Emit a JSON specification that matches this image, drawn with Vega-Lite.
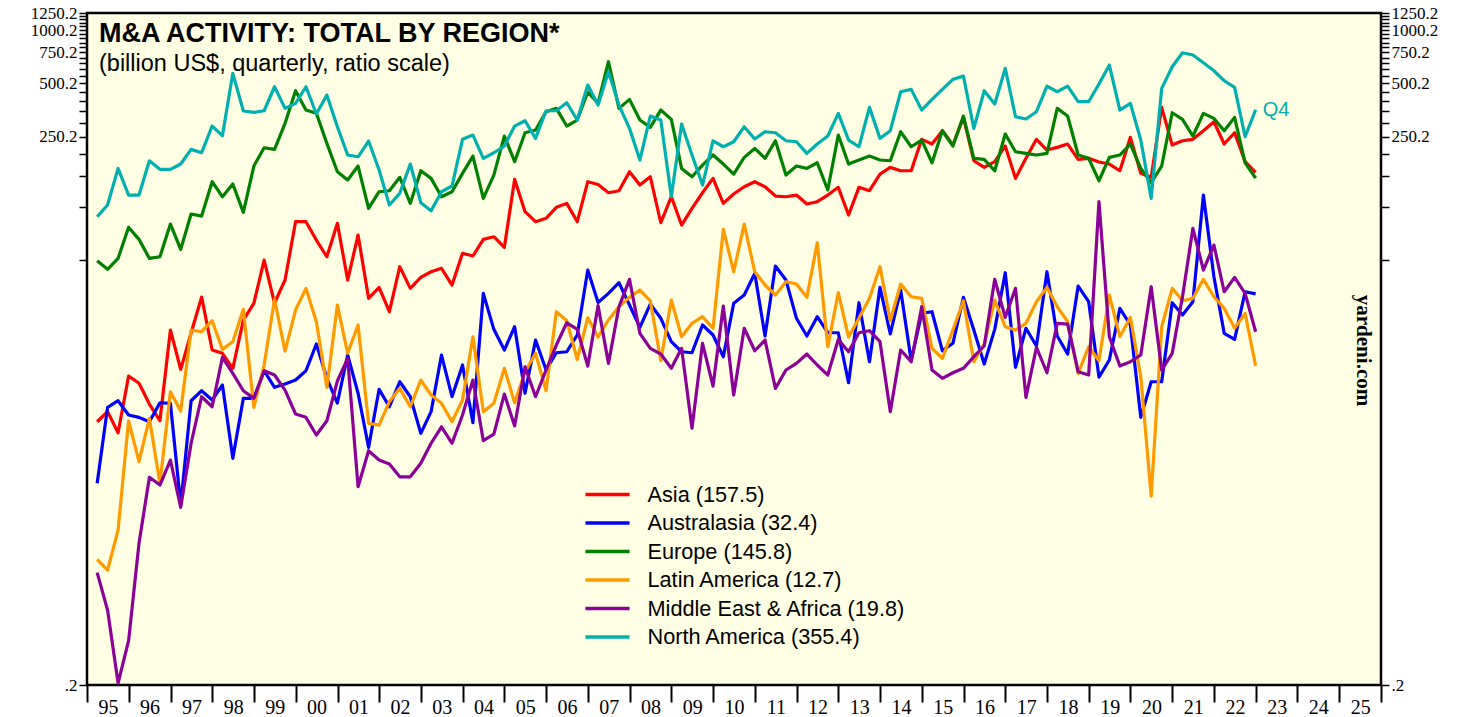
{
"$schema": "https://vega.github.io/schema/vega-lite/v6.json",
"width": 1294, "height": 672,
"autosize": {"type": "none"},
"padding": {"left": 87, "top": 13, "right": 99, "bottom": 32},
"background": "white",
"config": {
  "view": {"fill": "#FFFFE3", "stroke": "#000000", "strokeWidth": 2.5},
  "axis": {"labelFont": "Liberation Serif", "labelFontSize": 20, "labelColor": "#000000", "tickColor": "#000000", "domain": false, "grid": false}
},
"title": {"text": "M&A ACTIVITY: TOTAL BY REGION*", "subtitle": "(billion US$, quarterly, ratio scale)", "anchor": "start", "frame": "group", "orient": "top", "offset": -72, "dx": 12, "font": "Liberation Sans", "fontSize": 27, "fontWeight": "bold", "color": "#000000", "subtitleFont": "Liberation Sans", "subtitleFontSize": 23.5, "subtitleColor": "#000000", "subtitlePadding": 4},
"datasets": {
"bounds": [{"value": 0.2}, {"value": 1250.2}],
"tag": [{"date": "2022-12-31", "value": 355.4, "label": "Q4"}],
"ma": [
{"date":"1995-03-31","region":"Asia (157.5)","value":6.14},{"date":"1995-06-30","region":"Asia (157.5)","value":7.00},{"date":"1995-09-30","region":"Asia (157.5)","value":5.32},{"date":"1995-12-31","region":"Asia (157.5)","value":11.13},
{"date":"1996-03-31","region":"Asia (157.5)","value":10.12},{"date":"1996-06-30","region":"Asia (157.5)","value":7.73},{"date":"1996-09-30","region":"Asia (157.5)","value":6.22},{"date":"1996-12-31","region":"Asia (157.5)","value":20.24},
{"date":"1997-03-31","region":"Asia (157.5)","value":12.14},{"date":"1997-06-30","region":"Asia (157.5)","value":19.46},{"date":"1997-09-30","region":"Asia (157.5)","value":31.09},{"date":"1997-12-31","region":"Asia (157.5)","value":15.60},
{"date":"1998-03-31","region":"Asia (157.5)","value":14.95},{"date":"1998-06-30","region":"Asia (157.5)","value":12.30},{"date":"1998-09-30","region":"Asia (157.5)","value":23.05},{"date":"1998-12-31","region":"Asia (157.5)","value":28.65},
{"date":"1999-03-31","region":"Asia (157.5)","value":50.30},{"date":"1999-06-30","region":"Asia (157.5)","value":28.75},{"date":"1999-09-30","region":"Asia (157.5)","value":38.78},{"date":"1999-12-31","region":"Asia (157.5)","value":82.8},
{"date":"2000-03-31","region":"Asia (157.5)","value":82.8},{"date":"2000-06-30","region":"Asia (157.5)","value":65.24},{"date":"2000-09-30","region":"Asia (157.5)","value":52.5},{"date":"2000-12-31","region":"Asia (157.5)","value":81.1},
{"date":"2001-03-31","region":"Asia (157.5)","value":38.78},{"date":"2001-06-30","region":"Asia (157.5)","value":69.63},{"date":"2001-09-30","region":"Asia (157.5)","value":30.56},{"date":"2001-12-31","region":"Asia (157.5)","value":35.27},
{"date":"2002-03-31","region":"Asia (157.5)","value":25.68},{"date":"2002-06-30","region":"Asia (157.5)","value":46.1},{"date":"2002-09-30","region":"Asia (157.5)","value":34.81},{"date":"2002-12-31","region":"Asia (157.5)","value":40.16},
{"date":"2003-03-31","region":"Asia (157.5)","value":43.2},{"date":"2003-06-30","region":"Asia (157.5)","value":45.15},{"date":"2003-09-30","region":"Asia (157.5)","value":36.34},{"date":"2003-12-31","region":"Asia (157.5)","value":54.9},
{"date":"2004-03-31","region":"Asia (157.5)","value":52.99},{"date":"2004-06-30","region":"Asia (157.5)","value":65.83},{"date":"2004-09-30","region":"Asia (157.5)","value":68.1},{"date":"2004-12-31","region":"Asia (157.5)","value":59.33},
{"date":"2005-03-31","region":"Asia (157.5)","value":143.7},{"date":"2005-06-30","region":"Asia (157.5)","value":94.3},{"date":"2005-09-30","region":"Asia (157.5)","value":82.8},{"date":"2005-12-31","region":"Asia (157.5)","value":86.5},
{"date":"2006-03-31","region":"Asia (157.5)","value":99.8},{"date":"2006-06-30","region":"Asia (157.5)","value":105.1},{"date":"2006-09-30","region":"Asia (157.5)","value":82.8},{"date":"2006-12-31","region":"Asia (157.5)","value":139.3},
{"date":"2007-03-31","region":"Asia (157.5)","value":134.3},{"date":"2007-06-30","region":"Asia (157.5)","value":120.7},{"date":"2007-09-30","region":"Asia (157.5)","value":123.9},{"date":"2007-12-31","region":"Asia (157.5)","value":158.6},
{"date":"2008-03-31","region":"Asia (157.5)","value":133.4},{"date":"2008-06-30","region":"Asia (157.5)","value":148.6},{"date":"2008-09-30","region":"Asia (157.5)","value":81.7},{"date":"2008-12-31","region":"Asia (157.5)","value":114.6},
{"date":"2009-03-31","region":"Asia (157.5)","value":79.3},{"date":"2009-06-30","region":"Asia (157.5)","value":98.5},{"date":"2009-09-30","region":"Asia (157.5)","value":120.7},{"date":"2009-12-31","region":"Asia (157.5)","value":145.5},
{"date":"2010-03-31","region":"Asia (157.5)","value":105.1},{"date":"2010-06-30","region":"Asia (157.5)","value":118.7},{"date":"2010-09-30","region":"Asia (157.5)","value":130.5},{"date":"2010-12-31","region":"Asia (157.5)","value":139.3},
{"date":"2011-03-31","region":"Asia (157.5)","value":130.5},{"date":"2011-06-30","region":"Asia (157.5)","value":115.6},{"date":"2011-09-30","region":"Asia (157.5)","value":114.6},{"date":"2011-12-31","region":"Asia (157.5)","value":117.1},
{"date":"2012-03-31","region":"Asia (157.5)","value":104.2},{"date":"2012-06-30","region":"Asia (157.5)","value":107.4},{"date":"2012-09-30","region":"Asia (157.5)","value":117.1},{"date":"2012-12-31","region":"Asia (157.5)","value":129.5},
{"date":"2013-03-31","region":"Asia (157.5)","value":90.3},{"date":"2013-06-30","region":"Asia (157.5)","value":129.5},{"date":"2013-09-30","region":"Asia (157.5)","value":123.9},{"date":"2013-12-31","region":"Asia (157.5)","value":153.9},
{"date":"2014-03-31","region":"Asia (157.5)","value":167.9},{"date":"2014-06-30","region":"Asia (157.5)","value":160.7},{"date":"2014-09-30","region":"Asia (157.5)","value":160.7},{"date":"2014-12-31","region":"Asia (157.5)","value":241.7},
{"date":"2015-03-31","region":"Asia (157.5)","value":227.4},{"date":"2015-06-30","region":"Asia (157.5)","value":270.3},{"date":"2015-09-30","region":"Asia (157.5)","value":224.4},{"date":"2015-12-31","region":"Asia (157.5)","value":321.7},
{"date":"2016-03-31","region":"Asia (157.5)","value":183.0},{"date":"2016-06-30","region":"Asia (157.5)","value":167.9},{"date":"2016-09-30","region":"Asia (157.5)","value":180.7},{"date":"2016-12-31","region":"Asia (157.5)","value":221.5},
{"date":"2017-03-31","region":"Asia (157.5)","value":145.5},{"date":"2017-06-30","region":"Asia (157.5)","value":188.8},{"date":"2017-09-30","region":"Asia (157.5)","value":241.7},{"date":"2017-12-31","region":"Asia (157.5)","value":210.3},
{"date":"2018-03-31","region":"Asia (157.5)","value":217.8},{"date":"2018-06-30","region":"Asia (157.5)","value":227.4},{"date":"2018-09-30","region":"Asia (157.5)","value":186.3},{"date":"2018-12-31","region":"Asia (157.5)","value":188.8},
{"date":"2019-03-31","region":"Asia (157.5)","value":179.9},{"date":"2019-06-30","region":"Asia (157.5)","value":175.3},{"date":"2019-09-30","region":"Asia (157.5)","value":160.7},{"date":"2019-12-31","region":"Asia (157.5)","value":248.1},
{"date":"2020-03-31","region":"Asia (157.5)","value":155.3},{"date":"2020-06-30","region":"Asia (157.5)","value":147.5},{"date":"2020-09-30","region":"Asia (157.5)","value":366.4},{"date":"2020-12-31","region":"Asia (157.5)","value":224.4},
{"date":"2021-03-31","region":"Asia (157.5)","value":237.3},{"date":"2021-06-30","region":"Asia (157.5)","value":241.7},{"date":"2021-09-30","region":"Asia (157.5)","value":270.3},{"date":"2021-12-31","region":"Asia (157.5)","value":303.9},
{"date":"2022-03-31","region":"Asia (157.5)","value":227.4},{"date":"2022-06-30","region":"Asia (157.5)","value":263.4},{"date":"2022-09-30","region":"Asia (157.5)","value":180.7},{"date":"2022-12-31","region":"Asia (157.5)","value":157.5},
{"date":"1995-03-31","region":"Australasia (32.4)","value":2.756},{"date":"1995-06-30","region":"Australasia (32.4)","value":7.40},{"date":"1995-09-30","region":"Australasia (32.4)","value":8.07},{"date":"1995-12-31","region":"Australasia (32.4)","value":6.70},
{"date":"1996-03-31","region":"Australasia (32.4)","value":6.50},{"date":"1996-06-30","region":"Australasia (32.4)","value":6.14},{"date":"1996-09-30","region":"Australasia (32.4)","value":7.86},{"date":"1996-12-31","region":"Australasia (32.4)","value":7.80},
{"date":"1997-03-31","region":"Australasia (32.4)","value":2.078},{"date":"1997-06-30","region":"Australasia (32.4)","value":8.07},{"date":"1997-09-30","region":"Australasia (32.4)","value":9.19},{"date":"1997-12-31","region":"Australasia (32.4)","value":8.14},
{"date":"1998-03-31","region":"Australasia (32.4)","value":9.90},{"date":"1998-06-30","region":"Australasia (32.4)","value":3.815},{"date":"1998-09-30","region":"Australasia (32.4)","value":8.32},{"date":"1998-12-31","region":"Australasia (32.4)","value":8.32},
{"date":"1999-03-31","region":"Australasia (32.4)","value":11.92},{"date":"1999-06-30","region":"Australasia (32.4)","value":9.61},{"date":"1999-09-30","region":"Australasia (32.4)","value":10.03},{"date":"1999-12-31","region":"Australasia (32.4)","value":10.56},
{"date":"2000-03-31","region":"Australasia (32.4)","value":11.92},{"date":"2000-06-30","region":"Australasia (32.4)","value":16.87},{"date":"2000-09-30","region":"Australasia (32.4)","value":10.8},{"date":"2000-12-31","region":"Australasia (32.4)","value":7.83},
{"date":"2001-03-31","region":"Australasia (32.4)","value":14.62},{"date":"2001-06-30","region":"Australasia (32.4)","value":8.89},{"date":"2001-09-30","region":"Australasia (32.4)","value":4.40},{"date":"2001-12-31","region":"Australasia (32.4)","value":9.36},
{"date":"2002-03-31","region":"Australasia (32.4)","value":7.46},{"date":"2002-06-30","region":"Australasia (32.4)","value":10.33},{"date":"2002-09-30","region":"Australasia (32.4)","value":8.50},{"date":"2002-12-31","region":"Australasia (32.4)","value":5.28},
{"date":"2003-03-31","region":"Australasia (32.4)","value":7.00},{"date":"2003-06-30","region":"Australasia (32.4)","value":14.62},{"date":"2003-09-30","region":"Australasia (32.4)","value":8.50},{"date":"2003-12-31","region":"Australasia (32.4)","value":12.84},
{"date":"2004-03-31","region":"Australasia (32.4)","value":6.06},{"date":"2004-06-30","region":"Australasia (32.4)","value":32.62},{"date":"2004-09-30","region":"Australasia (32.4)","value":20.42},{"date":"2004-12-31","region":"Australasia (32.4)","value":15.60},
{"date":"2005-03-31","region":"Australasia (32.4)","value":21.13},{"date":"2005-06-30","region":"Australasia (32.4)","value":8.89},{"date":"2005-09-30","region":"Australasia (32.4)","value":17.77},{"date":"2005-12-31","region":"Australasia (32.4)","value":12.03},
{"date":"2006-03-31","region":"Australasia (32.4)","value":15.06},{"date":"2006-06-30","region":"Australasia (32.4)","value":15.26},{"date":"2006-09-30","region":"Australasia (32.4)","value":18.97},{"date":"2006-12-31","region":"Australasia (32.4)","value":44.17},
{"date":"2007-03-31","region":"Australasia (32.4)","value":28.95},{"date":"2007-06-30","region":"Australasia (32.4)","value":32.62},{"date":"2007-09-30","region":"Australasia (32.4)","value":37.45},{"date":"2007-12-31","region":"Australasia (32.4)","value":28.02},
{"date":"2008-03-31","region":"Australasia (32.4)","value":20.96},{"date":"2008-06-30","region":"Australasia (32.4)","value":28.38},{"date":"2008-09-30","region":"Australasia (32.4)","value":23.57},{"date":"2008-12-31","region":"Australasia (32.4)","value":17.39},
{"date":"2009-03-31","region":"Australasia (32.4)","value":15.26},{"date":"2009-06-30","region":"Australasia (32.4)","value":15.06},{"date":"2009-09-30","region":"Australasia (32.4)","value":21.6},{"date":"2009-12-31","region":"Australasia (32.4)","value":18.97},
{"date":"2010-03-31","region":"Australasia (32.4)","value":14.3},{"date":"2010-06-30","region":"Australasia (32.4)","value":28.65},{"date":"2010-09-30","region":"Australasia (32.4)","value":31.91},{"date":"2010-12-31","region":"Australasia (32.4)","value":42.3},
{"date":"2011-03-31","region":"Australasia (32.4)","value":18.72},{"date":"2011-06-30","region":"Australasia (32.4)","value":46.52},{"date":"2011-09-30","region":"Australasia (32.4)","value":38.78},{"date":"2011-12-31","region":"Australasia (32.4)","value":23.57},
{"date":"2012-03-31","region":"Australasia (32.4)","value":18.72},{"date":"2012-06-30","region":"Australasia (32.4)","value":24.06},{"date":"2012-09-30","region":"Australasia (32.4)","value":19.54},{"date":"2012-12-31","region":"Australasia (32.4)","value":19.54},
{"date":"2013-03-31","region":"Australasia (32.4)","value":10.2},{"date":"2013-06-30","region":"Australasia (32.4)","value":28.87},{"date":"2013-09-30","region":"Australasia (32.4)","value":13.4},{"date":"2013-12-31","region":"Australasia (32.4)","value":35.27},
{"date":"2014-03-31","region":"Australasia (32.4)","value":19.22},{"date":"2014-06-30","region":"Australasia (32.4)","value":34.05},{"date":"2014-09-30","region":"Australasia (32.4)","value":13.58},{"date":"2014-12-31","region":"Australasia (32.4)","value":25.15},
{"date":"2015-03-31","region":"Australasia (32.4)","value":25.68},{"date":"2015-06-30","region":"Australasia (32.4)","value":15.45},{"date":"2015-09-30","region":"Australasia (32.4)","value":17.03},{"date":"2015-12-31","region":"Australasia (32.4)","value":30.96},
{"date":"2016-03-31","region":"Australasia (32.4)","value":20.24},{"date":"2016-06-30","region":"Australasia (32.4)","value":13.0},{"date":"2016-09-30","region":"Australasia (32.4)","value":20.42},{"date":"2016-12-31","region":"Australasia (32.4)","value":42.65},
{"date":"2017-03-31","region":"Australasia (32.4)","value":12.46},{"date":"2017-06-30","region":"Australasia (32.4)","value":20.7},{"date":"2017-09-30","region":"Australasia (32.4)","value":16.44},{"date":"2017-12-31","region":"Australasia (32.4)","value":43.2},
{"date":"2018-03-31","region":"Australasia (32.4)","value":18.72},{"date":"2018-06-30","region":"Australasia (32.4)","value":14.81},{"date":"2018-09-30","region":"Australasia (32.4)","value":35.87},{"date":"2018-12-31","region":"Australasia (32.4)","value":29.25},
{"date":"2019-03-31","region":"Australasia (32.4)","value":10.98},{"date":"2019-06-30","region":"Australasia (32.4)","value":13.7},{"date":"2019-09-30","region":"Australasia (32.4)","value":26.84},{"date":"2019-12-31","region":"Australasia (32.4)","value":21.6},
{"date":"2020-03-31","region":"Australasia (32.4)","value":6.50},{"date":"2020-06-30","region":"Australasia (32.4)","value":10.33},{"date":"2020-09-30","region":"Australasia (32.4)","value":10.33},{"date":"2020-12-31","region":"Australasia (32.4)","value":28.87},
{"date":"2021-03-31","region":"Australasia (32.4)","value":24.6},{"date":"2021-06-30","region":"Australasia (32.4)","value":29.25},{"date":"2021-09-30","region":"Australasia (32.4)","value":117.1},{"date":"2021-12-31","region":"Australasia (32.4)","value":40.48},
{"date":"2022-03-31","region":"Australasia (32.4)","value":19.39},{"date":"2022-06-30","region":"Australasia (32.4)","value":17.93},{"date":"2022-09-30","region":"Australasia (32.4)","value":33.3},{"date":"2022-12-31","region":"Australasia (32.4)","value":32.4},
{"date":"1995-03-31","region":"Europe (145.8)","value":49.8},{"date":"1995-06-30","region":"Europe (145.8)","value":44.6},{"date":"1995-09-30","region":"Europe (145.8)","value":51.4},{"date":"1995-12-31","region":"Europe (145.8)","value":77.0},
{"date":"1996-03-31","region":"Europe (145.8)","value":65.8},{"date":"1996-06-30","region":"Europe (145.8)","value":51.4},{"date":"1996-09-30","region":"Europe (145.8)","value":52.5},{"date":"1996-12-31","region":"Europe (145.8)","value":80.3},
{"date":"1997-03-31","region":"Europe (145.8)","value":57.8},{"date":"1997-06-30","region":"Europe (145.8)","value":91.5},{"date":"1997-09-30","region":"Europe (145.8)","value":89.1},{"date":"1997-12-31","region":"Europe (145.8)","value":139.3},
{"date":"1998-03-31","region":"Europe (145.8)","value":114.6},{"date":"1998-06-30","region":"Europe (145.8)","value":135.2},{"date":"1998-09-30","region":"Europe (145.8)","value":93.5},{"date":"1998-12-31","region":"Europe (145.8)","value":170.8},
{"date":"1999-03-31","region":"Europe (145.8)","value":216.7},{"date":"1999-06-30","region":"Europe (145.8)","value":212.1},{"date":"1999-09-30","region":"Europe (145.8)","value":297.6},{"date":"1999-12-31","region":"Europe (145.8)","value":454.8},
{"date":"2000-03-31","region":"Europe (145.8)","value":353.8},{"date":"2000-06-30","region":"Europe (145.8)","value":339.0},{"date":"2000-09-30","region":"Europe (145.8)","value":229.4},{"date":"2000-12-31","region":"Europe (145.8)","value":158.6},
{"date":"2001-03-31","region":"Europe (145.8)","value":142.4},{"date":"2001-06-30","region":"Europe (145.8)","value":170.8},{"date":"2001-09-30","region":"Europe (145.8)","value":98.5},{"date":"2001-12-31","region":"Europe (145.8)","value":122.3},
{"date":"2002-03-31","region":"Europe (145.8)","value":123.9},{"date":"2002-06-30","region":"Europe (145.8)","value":147.5},{"date":"2002-09-30","region":"Europe (145.8)","value":105.1},{"date":"2002-12-31","region":"Europe (145.8)","value":160.7},
{"date":"2003-03-31","region":"Europe (145.8)","value":145.5},{"date":"2003-06-30","region":"Europe (145.8)","value":114.6},{"date":"2003-09-30","region":"Europe (145.8)","value":122.3},{"date":"2003-12-31","region":"Europe (145.8)","value":155.3},
{"date":"2004-03-31","region":"Europe (145.8)","value":194.5},{"date":"2004-06-30","region":"Europe (145.8)","value":112.2},{"date":"2004-09-30","region":"Europe (145.8)","value":151.9},{"date":"2004-12-31","region":"Europe (145.8)","value":252.3},
{"date":"2005-03-31","region":"Europe (145.8)","value":180.7},{"date":"2005-06-30","region":"Europe (145.8)","value":263.4},{"date":"2005-09-30","region":"Europe (145.8)","value":272.8},{"date":"2005-12-31","region":"Europe (145.8)","value":346.2},
{"date":"2006-03-31","region":"Europe (145.8)","value":361.6},{"date":"2006-06-30","region":"Europe (145.8)","value":287.3},{"date":"2006-09-30","region":"Europe (145.8)","value":310.7},{"date":"2006-12-31","region":"Europe (145.8)","value":447.2},
{"date":"2007-03-31","region":"Europe (145.8)","value":387.5},{"date":"2007-06-30","region":"Europe (145.8)","value":663.3},{"date":"2007-09-30","region":"Europe (145.8)","value":361.6},{"date":"2007-12-31","region":"Europe (145.8)","value":406.6},
{"date":"2008-03-31","region":"Europe (145.8)","value":310.7},{"date":"2008-06-30","region":"Europe (145.8)","value":282.6},{"date":"2008-09-30","region":"Europe (145.8)","value":353.8},{"date":"2008-12-31","region":"Europe (145.8)","value":313.5},
{"date":"2009-03-31","region":"Europe (145.8)","value":165.6},{"date":"2009-06-30","region":"Europe (145.8)","value":148.6},{"date":"2009-09-30","region":"Europe (145.8)","value":173.0},{"date":"2009-12-31","region":"Europe (145.8)","value":197.1},
{"date":"2010-03-31","region":"Europe (145.8)","value":175.3},{"date":"2010-06-30","region":"Europe (145.8)","value":153.9},{"date":"2010-09-30","region":"Europe (145.8)","value":191.2},{"date":"2010-12-31","region":"Europe (145.8)","value":214.8},
{"date":"2011-03-31","region":"Europe (145.8)","value":188.8},{"date":"2011-06-30","region":"Europe (145.8)","value":237.3},{"date":"2011-09-30","region":"Europe (145.8)","value":151.9},{"date":"2011-12-31","region":"Europe (145.8)","value":170.8},
{"date":"2012-03-31","region":"Europe (145.8)","value":165.6},{"date":"2012-06-30","region":"Europe (145.8)","value":178.3},{"date":"2012-09-30","region":"Europe (145.8)","value":125.0},{"date":"2012-12-31","region":"Europe (145.8)","value":255.6},
{"date":"2013-03-31","region":"Europe (145.8)","value":175.3},{"date":"2013-06-30","region":"Europe (145.8)","value":184.7},{"date":"2013-09-30","region":"Europe (145.8)","value":194.5},{"date":"2013-12-31","region":"Europe (145.8)","value":184.7},
{"date":"2014-03-31","region":"Europe (145.8)","value":183.0},{"date":"2014-06-30","region":"Europe (145.8)","value":266.9},{"date":"2014-09-30","region":"Europe (145.8)","value":219.5},{"date":"2014-12-31","region":"Europe (145.8)","value":239.5},
{"date":"2015-03-31","region":"Europe (145.8)","value":178.3},{"date":"2015-06-30","region":"Europe (145.8)","value":270.3},{"date":"2015-09-30","region":"Europe (145.8)","value":221.5},{"date":"2015-12-31","region":"Europe (145.8)","value":327.3},
{"date":"2016-03-31","region":"Europe (145.8)","value":188.8},{"date":"2016-06-30","region":"Europe (145.8)","value":186.3},{"date":"2016-09-30","region":"Europe (145.8)","value":160.7},{"date":"2016-12-31","region":"Europe (145.8)","value":259.0},
{"date":"2017-03-31","region":"Europe (145.8)","value":205.8},{"date":"2017-06-30","region":"Europe (145.8)","value":201.5},{"date":"2017-09-30","region":"Europe (145.8)","value":197.1},{"date":"2017-12-31","region":"Europe (145.8)","value":201.5},
{"date":"2018-03-31","region":"Europe (145.8)","value":361.6},{"date":"2018-06-30","region":"Europe (145.8)","value":327.3},{"date":"2018-09-30","region":"Europe (145.8)","value":197.1},{"date":"2018-12-31","region":"Europe (145.8)","value":188.8},
{"date":"2019-03-31","region":"Europe (145.8)","value":141.1},{"date":"2019-06-30","region":"Europe (145.8)","value":191.2},{"date":"2019-09-30","region":"Europe (145.8)","value":197.1},{"date":"2019-12-31","region":"Europe (145.8)","value":227.4},
{"date":"2020-03-31","region":"Europe (145.8)","value":165.6},{"date":"2020-06-30","region":"Europe (145.8)","value":137.5},{"date":"2020-09-30","region":"Europe (145.8)","value":170.8},{"date":"2020-12-31","region":"Europe (145.8)","value":341.7},
{"date":"2021-03-31","region":"Europe (145.8)","value":313.5},{"date":"2021-06-30","region":"Europe (145.8)","value":252.3},{"date":"2021-09-30","region":"Europe (145.8)","value":339.0},{"date":"2021-12-31","region":"Europe (145.8)","value":317.3},
{"date":"2022-03-31","region":"Europe (145.8)","value":270.3},{"date":"2022-06-30","region":"Europe (145.8)","value":321.7},{"date":"2022-09-30","region":"Europe (145.8)","value":178.1},{"date":"2022-12-31","region":"Europe (145.8)","value":145.8},
{"date":"1995-03-31","region":"Latin America (12.7)","value":1.025},{"date":"1995-06-30","region":"Latin America (12.7)","value":0.892},{"date":"1995-09-30","region":"Latin America (12.7)","value":1.502},{"date":"1995-12-31","region":"Latin America (12.7)","value":6.22},
{"date":"1996-03-31","region":"Latin America (12.7)","value":3.65},{"date":"1996-06-30","region":"Latin America (12.7)","value":6.42},{"date":"1996-09-30","region":"Latin America (12.7)","value":2.756},{"date":"1996-12-31","region":"Latin America (12.7)","value":9.07},
{"date":"1997-03-31","region":"Latin America (12.7)","value":7.06},{"date":"1997-06-30","region":"Latin America (12.7)","value":20.24},{"date":"1997-09-30","region":"Latin America (12.7)","value":19.8},{"date":"1997-12-31","region":"Latin America (12.7)","value":22.84},
{"date":"1998-03-31","region":"Latin America (12.7)","value":15.74},{"date":"1998-06-30","region":"Latin America (12.7)","value":17.39},{"date":"1998-09-30","region":"Latin America (12.7)","value":26.49},{"date":"1998-12-31","region":"Latin America (12.7)","value":7.40},
{"date":"1999-03-31","region":"Latin America (12.7)","value":12.84},{"date":"1999-06-30","region":"Latin America (12.7)","value":30.17},{"date":"1999-09-30","region":"Latin America (12.7)","value":15.40},{"date":"1999-12-31","region":"Latin America (12.7)","value":26.25},
{"date":"2000-03-31","region":"Latin America (12.7)","value":34.81},{"date":"2000-06-30","region":"Latin America (12.7)","value":22.55},{"date":"2000-09-30","region":"Latin America (12.7)","value":9.61},{"date":"2000-12-31","region":"Latin America (12.7)","value":28.02},
{"date":"2001-03-31","region":"Latin America (12.7)","value":14.95},{"date":"2001-06-30","region":"Latin America (12.7)","value":21.6},{"date":"2001-09-30","region":"Latin America (12.7)","value":6.01},{"date":"2001-12-31","region":"Latin America (12.7)","value":5.88},
{"date":"2002-03-31","region":"Latin America (12.7)","value":7.97},{"date":"2002-06-30","region":"Latin America (12.7)","value":9.48},{"date":"2002-09-30","region":"Latin America (12.7)","value":7.46},{"date":"2002-12-31","region":"Latin America (12.7)","value":10.56},
{"date":"2003-03-31","region":"Latin America (12.7)","value":8.69},{"date":"2003-06-30","region":"Latin America (12.7)","value":7.80},{"date":"2003-09-30","region":"Latin America (12.7)","value":6.14},{"date":"2003-12-31","region":"Latin America (12.7)","value":8.14},
{"date":"2004-03-31","region":"Latin America (12.7)","value":18.55},{"date":"2004-06-30","region":"Latin America (12.7)","value":7.00},{"date":"2004-09-30","region":"Latin America (12.7)","value":7.80},{"date":"2004-12-31","region":"Latin America (12.7)","value":12.30},
{"date":"2005-03-31","region":"Latin America (12.7)","value":7.86},{"date":"2005-06-30","region":"Latin America (12.7)","value":11.77},{"date":"2005-09-30","region":"Latin America (12.7)","value":14.95},{"date":"2005-12-31","region":"Latin America (12.7)","value":9.19},
{"date":"2006-03-31","region":"Latin America (12.7)","value":25.68},{"date":"2006-06-30","region":"Latin America (12.7)","value":22.84},{"date":"2006-09-30","region":"Latin America (12.7)","value":13.82},{"date":"2006-12-31","region":"Latin America (12.7)","value":23.74},
{"date":"2007-03-31","region":"Latin America (12.7)","value":18.48},{"date":"2007-06-30","region":"Latin America (12.7)","value":23.05},{"date":"2007-09-30","region":"Latin America (12.7)","value":27.4},{"date":"2007-12-31","region":"Latin America (12.7)","value":30.96},
{"date":"2008-03-31","region":"Latin America (12.7)","value":34.05},{"date":"2008-06-30","region":"Latin America (12.7)","value":29.63},{"date":"2008-09-30","region":"Latin America (12.7)","value":13.58},{"date":"2008-12-31","region":"Latin America (12.7)","value":29.9},
{"date":"2009-03-31","region":"Latin America (12.7)","value":18.55},{"date":"2009-06-30","region":"Latin America (12.7)","value":22.08},{"date":"2009-09-30","region":"Latin America (12.7)","value":24.06},{"date":"2009-12-31","region":"Latin America (12.7)","value":20.7},
{"date":"2010-03-31","region":"Latin America (12.7)","value":74.98},{"date":"2010-06-30","region":"Latin America (12.7)","value":43.2},{"date":"2010-09-30","region":"Latin America (12.7)","value":80.3},{"date":"2010-12-31","region":"Latin America (12.7)","value":43.2},
{"date":"2011-03-31","region":"Latin America (12.7)","value":36.34},{"date":"2011-06-30","region":"Latin America (12.7)","value":31.91},{"date":"2011-09-30","region":"Latin America (12.7)","value":37.94},{"date":"2011-12-31","region":"Latin America (12.7)","value":36.81},
{"date":"2012-03-31","region":"Latin America (12.7)","value":30.96},{"date":"2012-06-30","region":"Latin America (12.7)","value":63.0},{"date":"2012-09-30","region":"Latin America (12.7)","value":16.29},{"date":"2012-12-31","region":"Latin America (12.7)","value":32.88},
{"date":"2013-03-31","region":"Latin America (12.7)","value":18.48},{"date":"2013-06-30","region":"Latin America (12.7)","value":23.57},{"date":"2013-09-30","region":"Latin America (12.7)","value":30.56},{"date":"2013-12-31","region":"Latin America (12.7)","value":46.1},
{"date":"2014-03-31","region":"Latin America (12.7)","value":22.84},{"date":"2014-06-30","region":"Latin America (12.7)","value":36.81},{"date":"2014-09-30","region":"Latin America (12.7)","value":31.2},{"date":"2014-12-31","region":"Latin America (12.7)","value":30.56},
{"date":"2015-03-31","region":"Latin America (12.7)","value":15.95},{"date":"2015-06-30","region":"Latin America (12.7)","value":14.0},{"date":"2015-09-30","region":"Latin America (12.7)","value":20.24},{"date":"2015-12-31","region":"Latin America (12.7)","value":29.63},
{"date":"2016-03-31","region":"Latin America (12.7)","value":13.4},{"date":"2016-06-30","region":"Latin America (12.7)","value":16.87},{"date":"2016-09-30","region":"Latin America (12.7)","value":29.9},{"date":"2016-12-31","region":"Latin America (12.7)","value":21.13},
{"date":"2017-03-31","region":"Latin America (12.7)","value":20.24},{"date":"2017-06-30","region":"Latin America (12.7)","value":22.08},{"date":"2017-09-30","region":"Latin America (12.7)","value":29.25},{"date":"2017-12-31","region":"Latin America (12.7)","value":35.27},
{"date":"2018-03-31","region":"Latin America (12.7)","value":27.4},{"date":"2018-06-30","region":"Latin America (12.7)","value":22.55},{"date":"2018-09-30","region":"Latin America (12.7)","value":11.52},{"date":"2018-12-31","region":"Latin America (12.7)","value":16.29},
{"date":"2019-03-31","region":"Latin America (12.7)","value":13.58},{"date":"2019-06-30","region":"Latin America (12.7)","value":31.91},{"date":"2019-09-30","region":"Latin America (12.7)","value":18.55},{"date":"2019-12-31","region":"Latin America (12.7)","value":23.87},
{"date":"2020-03-31","region":"Latin America (12.7)","value":11.03},{"date":"2020-06-30","region":"Latin America (12.7)","value":2.336},{"date":"2020-09-30","region":"Latin America (12.7)","value":21.13},{"date":"2020-12-31","region":"Latin America (12.7)","value":34.81},
{"date":"2021-03-31","region":"Latin America (12.7)","value":29.63},{"date":"2021-06-30","region":"Latin America (12.7)","value":30.56},{"date":"2021-09-30","region":"Latin America (12.7)","value":39.13},{"date":"2021-12-31","region":"Latin America (12.7)","value":31.2},
{"date":"2022-03-31","region":"Latin America (12.7)","value":26.84},{"date":"2022-06-30","region":"Latin America (12.7)","value":20.7},{"date":"2022-09-30","region":"Latin America (12.7)","value":25.15},{"date":"2022-12-31","region":"Latin America (12.7)","value":12.7},
{"date":"1995-03-31","region":"Middle East & Africa (19.8)","value":0.862},{"date":"1995-06-30","region":"Middle East & Africa (19.8)","value":0.530},{"date":"1995-09-30","region":"Middle East & Africa (19.8)","value":0.205},{"date":"1995-12-31","region":"Middle East & Africa (19.8)","value":0.356},
{"date":"1996-03-31","region":"Middle East & Africa (19.8)","value":1.263},{"date":"1996-06-30","region":"Middle East & Africa (19.8)","value":2.98},{"date":"1996-09-30","region":"Middle East & Africa (19.8)","value":2.696},{"date":"1996-12-31","region":"Middle East & Africa (19.8)","value":3.73},
{"date":"1997-03-31","region":"Middle East & Africa (19.8)","value":2.017},{"date":"1997-06-30","region":"Middle East & Africa (19.8)","value":4.64},{"date":"1997-09-30","region":"Middle East & Africa (19.8)","value":8.50},{"date":"1997-12-31","region":"Middle East & Africa (19.8)","value":7.46},
{"date":"1998-03-31","region":"Middle East & Africa (19.8)","value":14.19},{"date":"1998-06-30","region":"Middle East & Africa (19.8)","value":11.52},{"date":"1998-09-30","region":"Middle East & Africa (19.8)","value":9.19},{"date":"1998-12-31","region":"Middle East & Africa (19.8)","value":8.32},
{"date":"1999-03-31","region":"Middle East & Africa (19.8)","value":11.92},{"date":"1999-06-30","region":"Middle East & Africa (19.8)","value":11.27},{"date":"1999-09-30","region":"Middle East & Africa (19.8)","value":9.27},{"date":"1999-12-31","region":"Middle East & Africa (19.8)","value":6.79},
{"date":"2000-03-31","region":"Middle East & Africa (19.8)","value":6.50},{"date":"2000-06-30","region":"Middle East & Africa (19.8)","value":5.166},{"date":"2000-09-30","region":"Middle East & Africa (19.8)","value":6.22},{"date":"2000-12-31","region":"Middle East & Africa (19.8)","value":10.43},
{"date":"2001-03-31","region":"Middle East & Africa (19.8)","value":14.0},{"date":"2001-06-30","region":"Middle East & Africa (19.8)","value":2.637},{"date":"2001-09-30","region":"Middle East & Africa (19.8)","value":4.21},{"date":"2001-12-31","region":"Middle East & Africa (19.8)","value":3.73},
{"date":"2002-03-31","region":"Middle East & Africa (19.8)","value":3.54},{"date":"2002-06-30","region":"Middle East & Africa (19.8)","value":3.0},{"date":"2002-09-30","region":"Middle East & Africa (19.8)","value":3.0},{"date":"2002-12-31","region":"Middle East & Africa (19.8)","value":3.575},
{"date":"2003-03-31","region":"Middle East & Africa (19.8)","value":4.64},{"date":"2003-06-30","region":"Middle East & Africa (19.8)","value":5.75},{"date":"2003-09-30","region":"Middle East & Africa (19.8)","value":4.64},{"date":"2003-12-31","region":"Middle East & Africa (19.8)","value":6.70},
{"date":"2004-03-31","region":"Middle East & Africa (19.8)","value":10.56},{"date":"2004-06-30","region":"Middle East & Africa (19.8)","value":4.80},{"date":"2004-09-30","region":"Middle East & Africa (19.8)","value":5.23},{"date":"2004-12-31","region":"Middle East & Africa (19.8)","value":8.80},
{"date":"2005-03-31","region":"Middle East & Africa (19.8)","value":5.81},{"date":"2005-06-30","region":"Middle East & Africa (19.8)","value":12.55},{"date":"2005-09-30","region":"Middle East & Africa (19.8)","value":8.50},{"date":"2005-12-31","region":"Middle East & Africa (19.8)","value":12.03},
{"date":"2006-03-31","region":"Middle East & Africa (19.8)","value":16.65},{"date":"2006-06-30","region":"Middle East & Africa (19.8)","value":22.25},{"date":"2006-09-30","region":"Middle East & Africa (19.8)","value":20.42},{"date":"2006-12-31","region":"Middle East & Africa (19.8)","value":12.67},
{"date":"2007-03-31","region":"Middle East & Africa (19.8)","value":27.83},{"date":"2007-06-30","region":"Middle East & Africa (19.8)","value":13.12},{"date":"2007-09-30","region":"Middle East & Africa (19.8)","value":27.4},{"date":"2007-12-31","region":"Middle East & Africa (19.8)","value":39.13},
{"date":"2008-03-31","region":"Middle East & Africa (19.8)","value":19.39},{"date":"2008-06-30","region":"Middle East & Africa (19.8)","value":15.95},{"date":"2008-09-30","region":"Middle East & Africa (19.8)","value":14.81},{"date":"2008-12-31","region":"Middle East & Africa (19.8)","value":12.30},
{"date":"2009-03-31","region":"Middle East & Africa (19.8)","value":15.95},{"date":"2009-06-30","region":"Middle East & Africa (19.8)","value":5.64},{"date":"2009-09-30","region":"Middle East & Africa (19.8)","value":17.03},{"date":"2009-12-31","region":"Middle East & Africa (19.8)","value":9.77},
{"date":"2010-03-31","region":"Middle East & Africa (19.8)","value":27.65},{"date":"2010-06-30","region":"Middle East & Africa (19.8)","value":8.69},{"date":"2010-09-30","region":"Middle East & Africa (19.8)","value":20.7},{"date":"2010-12-31","region":"Middle East & Africa (19.8)","value":15.46},
{"date":"2011-03-31","region":"Middle East & Africa (19.8)","value":17.77},{"date":"2011-06-30","region":"Middle East & Africa (19.8)","value":9.48},{"date":"2011-09-30","region":"Middle East & Africa (19.8)","value":12.03},{"date":"2011-12-31","region":"Middle East & Africa (19.8)","value":13.12},
{"date":"2012-03-31","region":"Middle East & Africa (19.8)","value":14.81},{"date":"2012-06-30","region":"Middle East & Africa (19.8)","value":12.84},{"date":"2012-09-30","region":"Middle East & Africa (19.8)","value":11.27},{"date":"2012-12-31","region":"Middle East & Africa (19.8)","value":17.9},
{"date":"2013-03-31","region":"Middle East & Africa (19.8)","value":15.26},{"date":"2013-06-30","region":"Middle East & Africa (19.8)","value":19.54},{"date":"2013-09-30","region":"Middle East & Africa (19.8)","value":20.06},{"date":"2013-12-31","region":"Middle East & Africa (19.8)","value":17.39},
{"date":"2014-03-31","region":"Middle East & Africa (19.8)","value":7.00},{"date":"2014-06-30","region":"Middle East & Africa (19.8)","value":15.60},{"date":"2014-09-30","region":"Middle East & Africa (19.8)","value":13.4},{"date":"2014-12-31","region":"Middle East & Africa (19.8)","value":27.4},
{"date":"2015-03-31","region":"Middle East & Africa (19.8)","value":12.03},{"date":"2015-06-30","region":"Middle East & Africa (19.8)","value":10.8},{"date":"2015-09-30","region":"Middle East & Africa (19.8)","value":11.61},{"date":"2015-12-31","region":"Middle East & Africa (19.8)","value":12.30},
{"date":"2016-03-31","region":"Middle East & Africa (19.8)","value":14.3},{"date":"2016-06-30","region":"Middle East & Africa (19.8)","value":16.44},{"date":"2016-09-30","region":"Middle East & Africa (19.8)","value":39.13},{"date":"2016-12-31","region":"Middle East & Africa (19.8)","value":23.87},
{"date":"2017-03-31","region":"Middle East & Africa (19.8)","value":34.81},{"date":"2017-06-30","region":"Middle East & Africa (19.8)","value":8.43},{"date":"2017-09-30","region":"Middle East & Africa (19.8)","value":16.15},{"date":"2017-12-31","region":"Middle East & Africa (19.8)","value":11.61},
{"date":"2018-03-31","region":"Middle East & Africa (19.8)","value":22.08},{"date":"2018-06-30","region":"Middle East & Africa (19.8)","value":21.88},{"date":"2018-09-30","region":"Middle East & Africa (19.8)","value":11.77},{"date":"2018-12-31","region":"Middle East & Africa (19.8)","value":11.27},
{"date":"2019-03-31","region":"Middle East & Africa (19.8)","value":107.4},{"date":"2019-06-30","region":"Middle East & Africa (19.8)","value":18.55},{"date":"2019-09-30","region":"Middle East & Africa (19.8)","value":12.67},{"date":"2019-12-31","region":"Middle East & Africa (19.8)","value":13.4},
{"date":"2020-03-31","region":"Middle East & Africa (19.8)","value":14.62},{"date":"2020-06-30","region":"Middle East & Africa (19.8)","value":35.55},{"date":"2020-09-30","region":"Middle East & Africa (19.8)","value":12.03},{"date":"2020-12-31","region":"Middle East & Africa (19.8)","value":14.95},
{"date":"2021-03-31","region":"Middle East & Africa (19.8)","value":31.2},{"date":"2021-06-30","region":"Middle East & Africa (19.8)","value":75.96},{"date":"2021-09-30","region":"Middle East & Africa (19.8)","value":44.17},{"date":"2021-12-31","region":"Middle East & Africa (19.8)","value":61.13},
{"date":"2022-03-31","region":"Middle East & Africa (19.8)","value":33.3},{"date":"2022-06-30","region":"Middle East & Africa (19.8)","value":40.16},{"date":"2022-09-30","region":"Middle East & Africa (19.8)","value":32.62},{"date":"2022-12-31","region":"Middle East & Africa (19.8)","value":19.8},
{"date":"1995-03-31","region":"North America (355.4)","value":88.3},{"date":"1995-06-30","region":"North America (355.4)","value":102.9},{"date":"1995-09-30","region":"North America (355.4)","value":165.6},{"date":"1995-12-31","region":"North America (355.4)","value":117.1},
{"date":"1996-03-31","region":"North America (355.4)","value":117.1},{"date":"1996-06-30","region":"North America (355.4)","value":182.8},{"date":"1996-09-30","region":"North America (355.4)","value":163.6},{"date":"1996-12-31","region":"North America (355.4)","value":163.6},
{"date":"1997-03-31","region":"North America (355.4)","value":175.3},{"date":"1997-06-30","region":"North America (355.4)","value":212.1},{"date":"1997-09-30","region":"North America (355.4)","value":203.0},{"date":"1997-12-31","region":"North America (355.4)","value":287.3},
{"date":"1998-03-31","region":"North America (355.4)","value":253.3},{"date":"1998-06-30","region":"North America (355.4)","value":570.2},{"date":"1998-09-30","region":"North America (355.4)","value":349.3},{"date":"1998-12-31","region":"North America (355.4)","value":343.4},
{"date":"1999-03-31","region":"North America (355.4)","value":350.6},{"date":"1999-06-30","region":"North America (355.4)","value":479.0},{"date":"1999-09-30","region":"North America (355.4)","value":361.6},{"date":"1999-12-31","region":"North America (355.4)","value":386.0},
{"date":"2000-03-31","region":"North America (355.4)","value":479.0},{"date":"2000-06-30","region":"North America (355.4)","value":335.9},{"date":"2000-09-30","region":"North America (355.4)","value":430.1},{"date":"2000-12-31","region":"North America (355.4)","value":284.7},
{"date":"2001-03-31","region":"North America (355.4)","value":197.1},{"date":"2001-06-30","region":"North America (355.4)","value":192.7},{"date":"2001-09-30","region":"North America (355.4)","value":236.4},{"date":"2001-12-31","region":"North America (355.4)","value":162.2},
{"date":"2002-03-31","region":"North America (355.4)","value":102.9},{"date":"2002-06-30","region":"North America (355.4)","value":119.8},{"date":"2002-09-30","region":"North America (355.4)","value":175.3},{"date":"2002-12-31","region":"North America (355.4)","value":105.9},
{"date":"2003-03-31","region":"North America (355.4)","value":95.5},{"date":"2003-06-30","region":"North America (355.4)","value":122.3},{"date":"2003-09-30","region":"North America (355.4)","value":131.7},{"date":"2003-12-31","region":"North America (355.4)","value":241.7},
{"date":"2004-03-31","region":"North America (355.4)","value":255.6},{"date":"2004-06-30","region":"North America (355.4)","value":188.8},{"date":"2004-09-30","region":"North America (355.4)","value":203.0},{"date":"2004-12-31","region":"North America (355.4)","value":221.5},
{"date":"2005-03-31","region":"North America (355.4)","value":287.3},{"date":"2005-06-30","region":"North America (355.4)","value":307.9},{"date":"2005-09-30","region":"North America (355.4)","value":244.8},{"date":"2005-12-31","region":"North America (355.4)","value":350.6},
{"date":"2006-03-31","region":"North America (355.4)","value":350.6},{"date":"2006-06-30","region":"North America (355.4)","value":389.2},{"date":"2006-09-30","region":"North America (355.4)","value":310.7},{"date":"2006-12-31","region":"North America (355.4)","value":489.8},
{"date":"2007-03-31","region":"North America (355.4)","value":377.6},{"date":"2007-06-30","region":"North America (355.4)","value":582.4},{"date":"2007-09-30","region":"North America (355.4)","value":377.6},{"date":"2007-12-31","region":"North America (355.4)","value":278.9},
{"date":"2008-03-31","region":"North America (355.4)","value":184.7},{"date":"2008-06-30","region":"North America (355.4)","value":327.3},{"date":"2008-09-30","region":"North America (355.4)","value":310.7},{"date":"2008-12-31","region":"North America (355.4)","value":114.6},
{"date":"2009-03-31","region":"North America (355.4)","value":294.9},{"date":"2009-06-30","region":"North America (355.4)","value":197.1},{"date":"2009-09-30","region":"North America (355.4)","value":133.4},{"date":"2009-12-31","region":"North America (355.4)","value":237.3},
{"date":"2010-03-31","region":"North America (355.4)","value":219.5},{"date":"2010-06-30","region":"North America (355.4)","value":234.3},{"date":"2010-09-30","region":"North America (355.4)","value":284.7},{"date":"2010-12-31","region":"North America (355.4)","value":242.6},
{"date":"2011-03-31","region":"North America (355.4)","value":266.9},{"date":"2011-06-30","region":"North America (355.4)","value":263.4},{"date":"2011-09-30","region":"North America (355.4)","value":237.3},{"date":"2011-12-31","region":"North America (355.4)","value":234.3},
{"date":"2012-03-31","region":"North America (355.4)","value":201.5},{"date":"2012-06-30","region":"North America (355.4)","value":227.4},{"date":"2012-09-30","region":"North America (355.4)","value":252.3},{"date":"2012-12-31","region":"North America (355.4)","value":339.0},
{"date":"2013-03-31","region":"North America (355.4)","value":239.5},{"date":"2013-06-30","region":"North America (355.4)","value":219.5},{"date":"2013-09-30","region":"North America (355.4)","value":366.4},{"date":"2013-12-31","region":"North America (355.4)","value":244.8},
{"date":"2014-03-31","region":"North America (355.4)","value":270.3},{"date":"2014-06-30","region":"North America (355.4)","value":449.0},{"date":"2014-09-30","region":"North America (355.4)","value":463.1},{"date":"2014-12-31","region":"North America (355.4)","value":353.8},
{"date":"2015-03-31","region":"North America (355.4)","value":406.6},{"date":"2015-06-30","region":"North America (355.4)","value":463.1},{"date":"2015-09-30","region":"North America (355.4)","value":527.4},{"date":"2015-12-31","region":"North America (355.4)","value":550.6},
{"date":"2016-03-31","region":"North America (355.4)","value":278.9},{"date":"2016-06-30","region":"North America (355.4)","value":454.8},{"date":"2016-09-30","region":"North America (355.4)","value":382.5},{"date":"2016-12-31","region":"North America (355.4)","value":608.6},
{"date":"2017-03-31","region":"North America (355.4)","value":324.3},{"date":"2017-06-30","region":"North America (355.4)","value":314.7},{"date":"2017-09-30","region":"North America (355.4)","value":346.2},{"date":"2017-12-31","region":"North America (355.4)","value":483.4},
{"date":"2018-03-31","region":"North America (355.4)","value":449.0},{"date":"2018-06-30","region":"North America (355.4)","value":483.4},{"date":"2018-09-30","region":"North America (355.4)","value":394.3},{"date":"2018-12-31","region":"North America (355.4)","value":394.3},
{"date":"2019-03-31","region":"North America (355.4)","value":496.2},{"date":"2019-06-30","region":"North America (355.4)","value":635.3},{"date":"2019-09-30","region":"North America (355.4)","value":353.8},{"date":"2019-12-31","region":"North America (355.4)","value":386.0},
{"date":"2020-03-31","region":"North America (355.4)","value":239.5},{"date":"2020-06-30","region":"North America (355.4)","value":112.2},{"date":"2020-09-30","region":"North America (355.4)","value":469.2},{"date":"2020-12-31","region":"North America (355.4)","value":621.3},
{"date":"2021-03-31","region":"North America (355.4)","value":745.6},{"date":"2021-06-30","region":"North America (355.4)","value":723.5},{"date":"2021-09-30","region":"North America (355.4)","value":654.7},{"date":"2021-12-31","region":"North America (355.4)","value":589.9},
{"date":"2022-03-31","region":"North America (355.4)","value":517.9},{"date":"2022-06-30","region":"North America (355.4)","value":475.3},{"date":"2022-09-30","region":"North America (355.4)","value":250.0},{"date":"2022-12-31","region":"North America (355.4)","value":355.4}
]
},
"resolve": {"scale": {"x": "shared", "y": "shared"}, "axis": {"x": "independent", "y": "independent"}},
"layer": [
{
  "data": {"name": "ma"},
  "mark": {"type": "line", "strokeWidth": 3.2, "strokeJoin": "round"},
  "encoding": {
    "x": {"field": "date", "type": "temporal",
      "scale": {"type": "utc", "domain": [{"year": 1995, "month": 1, "date": 1, "utc": true}, {"year": 2026, "month": 1, "date": 1, "utc": true}]},
      "axis": {"orient": "bottom", "title": null,
        "values": [{"year":1995,"month":1,"date":1,"utc":true},{"year":1996,"month":1,"date":1,"utc":true},{"year":1997,"month":1,"date":1,"utc":true},{"year":1998,"month":1,"date":1,"utc":true},{"year":1999,"month":1,"date":1,"utc":true},{"year":2000,"month":1,"date":1,"utc":true},{"year":2001,"month":1,"date":1,"utc":true},{"year":2002,"month":1,"date":1,"utc":true},{"year":2003,"month":1,"date":1,"utc":true},{"year":2004,"month":1,"date":1,"utc":true},{"year":2005,"month":1,"date":1,"utc":true},{"year":2006,"month":1,"date":1,"utc":true},{"year":2007,"month":1,"date":1,"utc":true},{"year":2008,"month":1,"date":1,"utc":true},{"year":2009,"month":1,"date":1,"utc":true},{"year":2010,"month":1,"date":1,"utc":true},{"year":2011,"month":1,"date":1,"utc":true},{"year":2012,"month":1,"date":1,"utc":true},{"year":2013,"month":1,"date":1,"utc":true},{"year":2014,"month":1,"date":1,"utc":true},{"year":2015,"month":1,"date":1,"utc":true},{"year":2016,"month":1,"date":1,"utc":true},{"year":2017,"month":1,"date":1,"utc":true},{"year":2018,"month":1,"date":1,"utc":true},{"year":2019,"month":1,"date":1,"utc":true},{"year":2020,"month":1,"date":1,"utc":true},{"year":2021,"month":1,"date":1,"utc":true},{"year":2022,"month":1,"date":1,"utc":true},{"year":2023,"month":1,"date":1,"utc":true},{"year":2024,"month":1,"date":1,"utc":true},{"year":2025,"month":1,"date":1,"utc":true},{"year":2026,"month":1,"date":1,"utc":true}],
        "labelExpr": "utcyear(datum.value) > 2025 ? '' : utcFormat(datum.value, '%y')", "labelOffset": 20.9, "labelPadding": -5, "labelAlign": "center", "labelBaseline": "top", "labelFontSize": 20, "tickSize": 17, "tickWidth": 2, "labelFlush": false, "labelOverlap": false, "labelBound": false, "domain": false, "grid": false}},
    "y": {"field": "value", "type": "quantitative",
      "scale": {"type": "log", "domain": [0.2, 1250.2], "nice": false},
      "axis": {"orient": "left", "title": null, "values": [0.2, 250.2, 500.2, 750.2, 1000.2, 1250.2], "labelExpr": "datum.value < 1 ? '.2' : format(datum.value, '.1f')", "labelFontSize": 17, "tickSize": 8, "tickWidth": 1.5, "labelPadding": 2, "labelOverlap": false, "labelFlush": false, "domain": false, "grid": false}},
    "color": {"field": "region", "type": "nominal",
      "scale": {"domain": ["Asia (157.5)", "Australasia (32.4)", "Europe (145.8)", "Latin America (12.7)", "Middle East & Africa (19.8)", "North America (355.4)"], "range": ["#FF0000", "#0000FF", "#008000", "#FF9900", "#8B0099", "#00B0B0"]},
      "legend": {"title": null, "orient": "none", "legendX": 508, "legendY": 469, "direction": "vertical", "symbolType": "M-2.1,0H2.1", "symbolSize": 441, "symbolStrokeWidth": 3.5, "labelFont": "Liberation Sans", "labelFontSize": 21.7, "labelColor": "#000000", "labelOffset": 27.5, "rowPadding": 3.5, "padding": 0, "labelLimit": 500}}
  }
},
{
  "data": {"name": "bounds"},
  "mark": {"type": "point", "opacity": 0},
  "encoding": {
    "y": {"field": "value", "type": "quantitative",
      "scale": {"type": "log", "domain": [0.2, 1250.2], "nice": false},
      "axis": {"orient": "right", "title": null, "values": [0.2, 250.2, 500.2, 750.2, 1000.2, 1250.2], "labelExpr": "datum.value < 1 ? '.2' : format(datum.value, '.1f')", "labelFontSize": 17, "tickSize": 8, "tickWidth": 1.5, "labelPadding": 2, "labelOverlap": false, "labelFlush": false, "domain": false, "grid": false}}
  }
},
{
  "data": {"name": "bounds"},
  "mark": {"type": "point", "opacity": 0},
  "encoding": {
    "y": {"field": "value", "type": "quantitative",
      "scale": {"type": "log", "domain": [0.2, 1250.2], "nice": false},
      "axis": {"orient": "left", "title": null, "values": [50.2, 100.2, 150.2, 200.2, 300.2, 350.2, 400.2, 450.2, 550.2, 600.2, 650.2, 700.2, 800.2, 850.2, 900.2, 950.2, 1050.2, 1100.2, 1150.2, 1200.2], "labels": false, "tickSize": 8, "tickWidth": 1.5, "domain": false, "grid": false}}
  }
},
{
  "data": {"name": "bounds"},
  "mark": {"type": "point", "opacity": 0},
  "encoding": {
    "y": {"field": "value", "type": "quantitative",
      "scale": {"type": "log", "domain": [0.2, 1250.2], "nice": false},
      "axis": {"orient": "right", "title": "yardeni.com", "titleX": -19, "titleY": 337, "titleAngle": 90, "titleAlign": "center", "titleBaseline": "middle", "titleFont": "Liberation Serif", "titleFontSize": 21, "titleFontWeight": "bold", "titleColor": "#000000", "values": [50.2, 100.2, 150.2, 200.2, 300.2, 350.2, 400.2, 450.2, 550.2, 600.2, 650.2, 700.2, 800.2, 850.2, 900.2, 950.2, 1050.2, 1100.2, 1150.2, 1200.2], "labels": false, "tickSize": 8, "tickWidth": 1.5, "domain": false, "grid": false}}
  }
},
{
  "data": {"name": "tag"},
  "mark": {"type": "text", "align": "left", "baseline": "middle", "dx": 7, "font": "Liberation Sans", "fontSize": 20, "color": "#00B0B0"},
  "encoding": {
    "x": {"field": "date", "type": "temporal", "scale": {"type": "utc", "domain": [{"year": 1995, "month": 1, "date": 1, "utc": true}, {"year": 2026, "month": 1, "date": 1, "utc": true}]}, "axis": null},
    "y": {"field": "value", "type": "quantitative", "scale": {"type": "log", "domain": [0.2, 1250.2], "nice": false}, "axis": null},
    "text": {"field": "label", "type": "nominal"}
  }
}
]
}
